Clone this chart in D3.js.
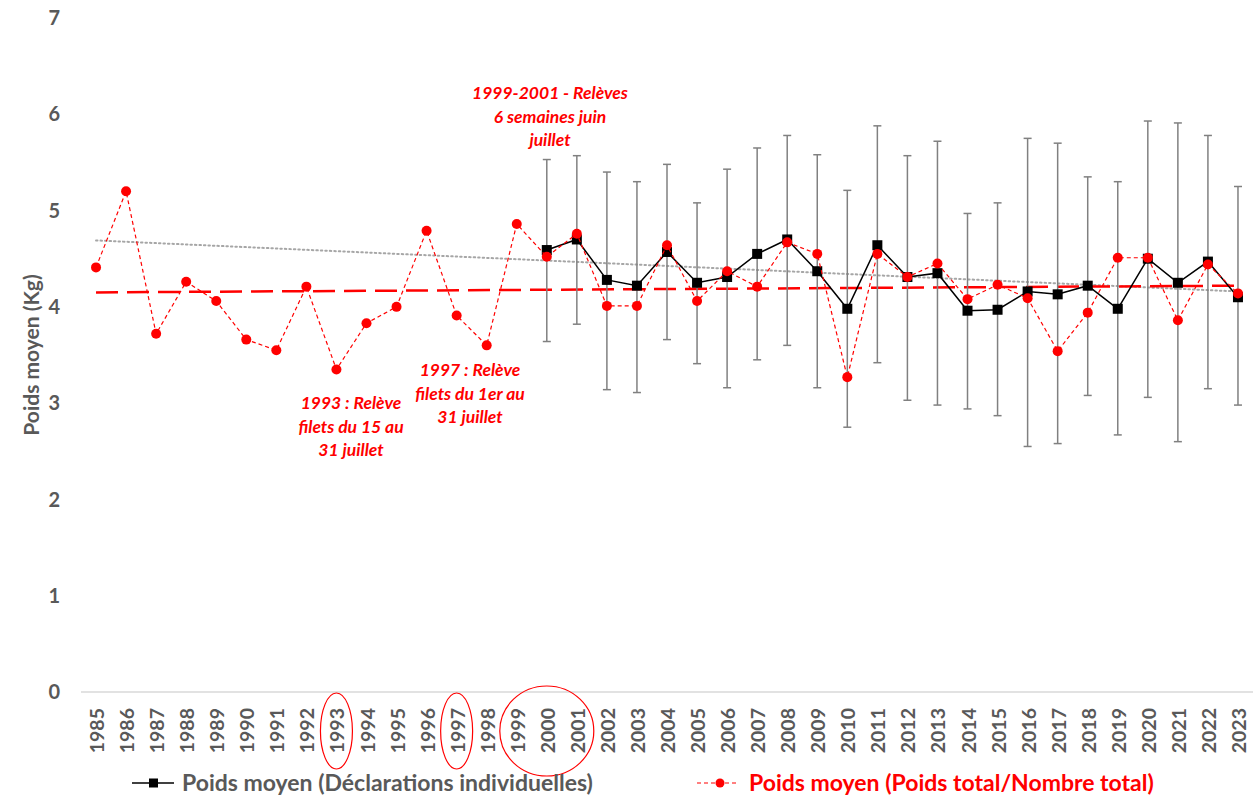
<!DOCTYPE html>
<html>
<head>
<meta charset="utf-8">
<script src="https://cdn.jsdelivr.net/npm/d3@7"></script>
<style>
  body { margin: 0; background: #fff; }
  svg { font-family: Lato, "Open Sans", sans-serif; }
  .note { fill: #ff0000; font-weight: bold; font-style: italic; font-size: 17.5px; }
</style>
</head>
<body>
<svg id="chart" width="1253" height="799"></svg>
<script>
const years = d3.range(1985, 2024).map(String);

// Poids moyen (Poids total/Nombre total), 1985-2023
const totalMean = [4.41, 5.20, 3.72, 4.26, 4.06, 3.66, 3.55, 4.21, 3.35, 3.83,
    4.00, 4.79, 3.91, 3.60, 4.86, 4.52, 4.76, 4.01, 4.01, 4.64,
    4.06, 4.37, 4.21, 4.67, 4.55, 3.27, 4.55, 4.31, 4.45, 4.08,
    4.23, 4.09, 3.54, 3.94, 4.51, 4.51, 3.86, 4.44, 4.14];

// Poids moyen (Déclarations individuelles), 2000-2023
const indivYears = d3.range(2000, 2024).map(String);
const indivMean = [4.59, 4.70, 4.28, 4.22, 4.57, 4.25, 4.31, 4.55, 4.70, 4.37,
    3.98, 4.64, 4.31, 4.35, 3.96, 3.97, 4.16, 4.13, 4.22, 3.98,
    4.50, 4.25, 4.47, 4.10];
const indivHigh = [5.53, 5.57, 5.40, 5.30, 5.48, 5.08, 5.43, 5.65, 5.78, 5.58,
    5.21, 5.88, 5.57, 5.72, 4.97, 5.08, 5.75, 5.70, 5.35, 5.30,
    5.93, 5.91, 5.78, 5.25];
const indivLow = [3.64, 3.82, 3.14, 3.11, 3.66, 3.41, 3.16, 3.45, 3.60, 3.16,
    2.75, 3.42, 3.03, 2.98, 2.94, 2.87, 2.55, 2.58, 3.08, 2.67,
    3.06, 2.60, 3.15, 2.98];

// trend lines (start 1985, end 2023)
const trendTotal = [4.15, 4.22];
const trendIndiv = [4.69, 4.16];

const yTicks = [0, 1, 2, 3, 4, 5, 6, 7];

const svg = d3.select("#chart");
const grey = "#595959";

let x = d3.scaleBand()
    .domain(years)
    .range([81, 1253]);

let y = d3.scaleLinear()
    .domain([0, 7])
    .range([692, 18]);

const cx = d => x(d) + x.bandwidth() / 2;

// y tick labels
svg.append("g")
    .selectAll("text")
    .data(yTicks)
    .enter().append("text")
    .attr("x", 60)
    .attr("y", d => y(d))
    .attr("dy", "0.36em")
    .attr("text-anchor", "end")
    .attr("fill", grey)
    .style("font-size", "20px")
    .style("font-weight", "bold")
    .text(d => d);

svg.append("text")
    .attr("transform", "translate(32,355) rotate(-90)")
    .attr("text-anchor", "middle")
    .attr("dy", "0.35em")
    .attr("fill", grey)
    .style("font-size", "21px")
    .style("font-weight", "bold")
    .text("Poids moyen (Kg)");

// x axis
svg.append("line")
    .attr("x1", 81).attr("x2", 1253)
    .attr("y1", y(0)).attr("y2", y(0))
    .attr("stroke", "#d9d9d9")
    .attr("stroke-width", 1.5);

svg.append("g")
    .selectAll("text")
    .data(years)
    .enter().append("text")
    .attr("transform", d => "translate(" + (cx(d) + 1) + "," + (y(0) + 16) + ") rotate(-90)")
    .attr("dy", "0.36em")
    .attr("text-anchor", "end")
    .attr("fill", grey)
    .style("font-size", "19.5px")
    .style("font-weight", "bold")
    .text(d => d);

// highlight ellipses around axis labels
const highlights = [
    {year: "1993", rx: 16, ry: 38},
    {year: "1997", rx: 16, ry: 38},
    {year: "2000", rx: 47, ry: 45}
];
svg.append("g")
    .selectAll("ellipse")
    .data(highlights)
    .enter().append("ellipse")
    .attr("cx", d => cx(d.year))
    .attr("cy", y(0) + 39)
    .attr("rx", d => d.rx)
    .attr("ry", d => d.ry)
    .attr("fill", "none")
    .attr("stroke", "#ff0000")
    .attr("stroke-width", 1.2);

// trend lines
svg.append("line")
    .attr("x1", cx("1985")).attr("x2", cx("2023"))
    .attr("y1", y(trendIndiv[0])).attr("y2", y(trendIndiv[1]))
    .attr("stroke", "#a6a6a6")
    .attr("stroke-width", 2)
    .attr("stroke-dasharray", "1.5,3")
    .attr("stroke-linecap", "round");

svg.append("line")
    .attr("x1", cx("1985")).attr("x2", cx("2023"))
    .attr("y1", y(trendTotal[0])).attr("y2", y(trendTotal[1]))
    .attr("stroke", "#ff0000")
    .attr("stroke-width", 2.5)
    .attr("stroke-dasharray", "22,9");

// error bars
let err = svg.append("g")
    .selectAll("g")
    .data(indivYears)
    .enter().append("g")
    .attr("stroke", "#808080")
    .attr("stroke-width", 1.5);

err.append("line")
    .attr("x1", d => cx(d)).attr("x2", d => cx(d))
    .attr("y1", (d, i) => y(indivHigh[i]))
    .attr("y2", (d, i) => y(indivLow[i]));
err.append("line")
    .attr("x1", d => cx(d) - 4).attr("x2", d => cx(d) + 4)
    .attr("y1", (d, i) => y(indivHigh[i]))
    .attr("y2", (d, i) => y(indivHigh[i]));
err.append("line")
    .attr("x1", d => cx(d) - 4).attr("x2", d => cx(d) + 4)
    .attr("y1", (d, i) => y(indivLow[i]))
    .attr("y2", (d, i) => y(indivLow[i]));

// black series
const line = d3.line().x(d => cx(d[0])).y(d => y(d[1]));
const indivPts = indivYears.map((d, i) => [d, indivMean[i]]);
const totalPts = years.map((d, i) => [d, totalMean[i]]);

svg.append("path")
    .datum(indivPts)
    .attr("d", line)
    .attr("fill", "none")
    .attr("stroke", "#000")
    .attr("stroke-width", 1.5);

svg.append("g")
    .selectAll("rect")
    .data(indivPts)
    .enter().append("rect")
    .attr("x", d => cx(d[0]) - 5)
    .attr("y", d => y(d[1]) - 5)
    .attr("width", 10)
    .attr("height", 10)
    .attr("fill", "#000");

// red series
svg.append("path")
    .datum(totalPts)
    .attr("d", line)
    .attr("fill", "none")
    .attr("stroke", "#ff0000")
    .attr("stroke-width", 1.2)
    .attr("stroke-dasharray", "4,3");

svg.append("g")
    .selectAll("circle")
    .data(totalPts)
    .enter().append("circle")
    .attr("cx", d => cx(d[0]))
    .attr("cy", d => y(d[1]))
    .attr("r", 5)
    .attr("fill", "#ff0000");

// annotations
const notes = [
    {x: 550, y: 93, lines: ["1999-2001  - Relèves", "6 semaines juin", "juillet"]},
    {x: 351, y: 403, lines: ["1993 : Relève", "filets du 15 au", "31 juillet"]},
    {x: 470, y: 370, lines: ["1997 : Relève", "filets du 1er au", "31 juillet"]}
];
notes.forEach(n => {
    svg.append("g")
        .selectAll("text")
        .data(n.lines)
        .enter().append("text")
        .attr("class", "note")
        .attr("x", n.x)
        .attr("y", (d, i) => n.y + i * 23.5)
        .attr("dy", "0.35em")
        .attr("text-anchor", "middle")
        .text(d => d);
});

// legend
let lg = svg.append("g").attr("transform", "translate(0,783)");
lg.append("line").attr("x1", 132).attr("x2", 174).attr("stroke", "#000").attr("stroke-width", 1.5);
lg.append("rect").attr("x", 149).attr("y", -4.5).attr("width", 9).attr("height", 9).attr("fill", "#000");
lg.append("text")
    .attr("x", 182).attr("dy", "0.35em")
    .attr("fill", grey)
    .style("font-size", "23px").style("font-weight", "bold")
    .text("Poids moyen (Déclarations individuelles)");

lg.append("line").attr("x1", 697).attr("x2", 738)
    .attr("stroke", "#ff0000").attr("stroke-width", 1.2).attr("stroke-dasharray", "4,3");
lg.append("circle").attr("cx", 720).attr("r", 4.5).attr("fill", "#ff0000");
lg.append("text")
    .attr("x", 749).attr("dy", "0.35em")
    .attr("fill", "#ff0000")
    .style("font-size", "23px").style("font-weight", "bold")
    .text("Poids moyen (Poids total/Nombre total)");
</script>
</body>
</html>
